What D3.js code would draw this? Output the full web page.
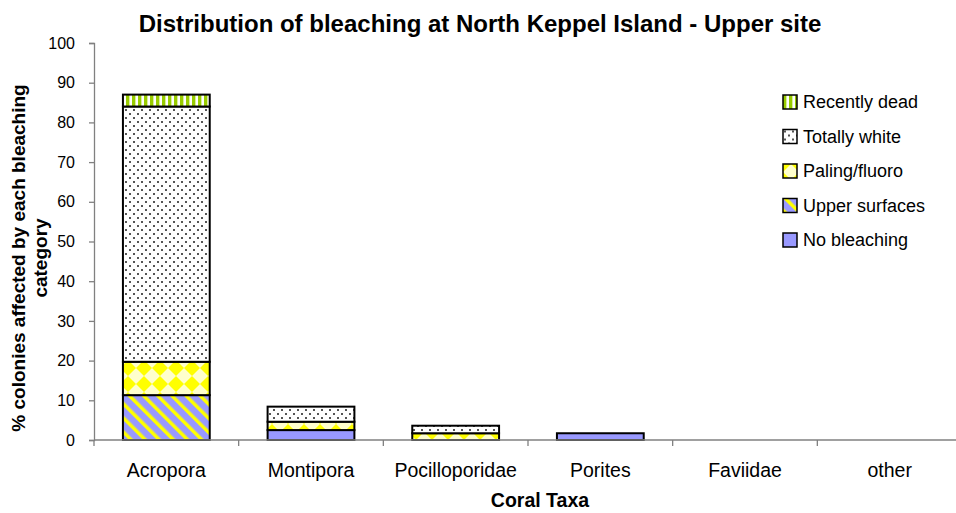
<!DOCTYPE html>
<html>
<head>
<meta charset="utf-8">
<script src="https://cdn.jsdelivr.net/npm/d3@7"></script>
<style>
  body { margin: 0; background: #fff; }
  text { font-family: "Liberation Sans", Arial, sans-serif; }
</style>
</head>
<body>
<div id="chart"></div>
<script>
const categories = ["Acropora", "Montipora", "Pocilloporidae", "Porites", "Faviidae", "other"];
const seriesNames = ["No bleaching", "Upper surfaces", "Paling/fluoro", "Totally white", "Recently dead"];

const noBleaching   = [0,    2.5, 0,   1.7, 0, 0];
const upperSurfaces = [11.3, 0,   0,   0,   0, 0];
const palingFluoro  = [8.4,  2.1, 1.7, 0,   0, 0];
const totallyWhite  = [64.3, 3.8, 1.9, 0,   0, 0];
const recentlyDead  = [3.0,  0,   0,   0,   0, 0];

const yTicks = [0, 10, 20, 30, 40, 50, 60, 70, 80, 90, 100];

const width = 956, height = 513;
const plotLeft = 94, plotRight = 962, plotTop = 43, plotBottom = 440;
const axisGrey = "#808080";

const rows = categories.map((c, i) => ({
  cat: c,
  "No bleaching": noBleaching[i],
  "Upper surfaces": upperSurfaces[i],
  "Paling/fluoro": palingFluoro[i],
  "Totally white": totallyWhite[i],
  "Recently dead": recentlyDead[i]
}));

const svg = d3.select("#chart").append("svg")
  .attr("width", width)
  .attr("height", height);

// --- fill patterns ---
const defs = svg.append("defs");

const pDead = defs.append("pattern").attr("id", "p-dead")
  .attr("patternUnits", "userSpaceOnUse").attr("width", 6).attr("height", 6);
pDead.append("rect").attr("width", 6).attr("height", 6).attr("fill", "#fff");
pDead.append("rect").attr("width", 3).attr("height", 6).attr("fill", "#99cc00");
pDead.append("rect").attr("x", 3).attr("width", 1).attr("height", 6).attr("fill", "#d9ee9e");

const pWhite = defs.append("pattern").attr("id", "p-white")
  .attr("patternUnits", "userSpaceOnUse").attr("width", 8).attr("height", 8);
pWhite.append("rect").attr("width", 8).attr("height", 8).attr("fill", "#fff");
pWhite.append("rect").attr("x", 1).attr("y", 1).attr("width", 2).attr("height", 2).attr("fill", "#555");
pWhite.append("rect").attr("x", 5).attr("y", 5).attr("width", 2).attr("height", 2).attr("fill", "#555");

const pPale = defs.append("pattern").attr("id", "p-pale")
  .attr("patternUnits", "userSpaceOnUse").attr("width", 16).attr("height", 16);
pPale.append("rect").attr("width", 16).attr("height", 16).attr("fill", "#ffff00");
pPale.append("polygon").attr("points", "8,0 16,8 8,16 0,8").attr("fill", "#ffffcc");

const pUpper = defs.append("pattern").attr("id", "p-upper")
  .attr("patternUnits", "userSpaceOnUse").attr("width", 10).attr("height", 10)
  .attr("patternTransform", "rotate(-45)");
pUpper.append("rect").attr("width", 10).attr("height", 10).attr("fill", "#9999ff");
pUpper.append("rect").attr("width", 3.5).attr("height", 10).attr("fill", "#ffff00");

const fills = {
  "No bleaching": "#9999ff",
  "Upper surfaces": "url(#p-upper)",
  "Paling/fluoro": "url(#p-pale)",
  "Totally white": "url(#p-white)",
  "Recently dead": "url(#p-dead)"
};

// --- scales ---
const x = d3.scaleBand().domain(categories).range([plotLeft, plotRight])
  .paddingInner(0.4).paddingOuter(0.2);
const y = d3.scaleLinear().domain([0, 100]).range([plotBottom, plotTop]);

// --- bars ---
const stacked = d3.stack().keys(seriesNames)(rows);

svg.append("g").selectAll("g")
  .data(stacked)
  .join("g")
    .attr("fill", d => fills[d.key])
  .selectAll("rect")
  .data(d => d.filter(s => s[1] - s[0] > 0))
  .join("rect")
    .attr("x", d => x(d.data.cat))
    .attr("y", d => y(d[1]))
    .attr("width", x.bandwidth())
    .attr("height", d => y(d[0]) - y(d[1]))
    .attr("stroke", "#000")
    .attr("stroke-width", 2);

// --- y axis ---
const yAxis = svg.append("g")
  .attr("transform", `translate(${plotLeft},0)`)
  .call(d3.axisLeft(y).tickValues(yTicks).tickSize(5).tickPadding(14));
yAxis.select(".domain").attr("stroke", axisGrey).attr("stroke-width", 1.3);
yAxis.selectAll(".tick line").attr("stroke", axisGrey).attr("stroke-width", 1.3);
yAxis.selectAll(".tick text")
  .attr("font-size", 16).attr("fill", "#000")
  .attr("font-family", "'Liberation Sans', Arial, sans-serif");

// --- x axis (ticks between categories) ---
svg.append("line")
  .attr("x1", plotLeft).attr("x2", width)
  .attr("y1", plotBottom).attr("y2", plotBottom)
  .attr("stroke", axisGrey).attr("stroke-width", 1.3);

svg.append("g").selectAll("line")
  .data(d3.range(categories.length + 1))
  .join("line")
    .attr("x1", i => plotLeft + i * x.step())
    .attr("x2", i => plotLeft + i * x.step())
    .attr("y1", plotBottom).attr("y2", plotBottom + 6)
    .attr("stroke", axisGrey).attr("stroke-width", 1.3);

svg.append("g").selectAll("text")
  .data(categories)
  .join("text")
    .attr("x", d => x(d) + x.bandwidth() / 2)
    .attr("y", 477)
    .attr("text-anchor", "middle")
    .attr("font-size", 19.5)
    .text(d => d);

// --- titles ---
svg.append("text")
  .attr("x", 480).attr("y", 32)
  .attr("text-anchor", "middle")
  .attr("font-size", 24).attr("font-weight", "bold")
  .text("Distribution of bleaching at North Keppel Island - Upper site");

svg.append("text")
  .attr("x", 540).attr("y", 507)
  .attr("text-anchor", "middle")
  .attr("font-size", 19.5).attr("font-weight", "bold")
  .text("Coral Taxa");

const yTitle = svg.append("text")
  .attr("transform", "translate(0,258) rotate(-90)")
  .attr("text-anchor", "middle")
  .attr("font-size", 19).attr("font-weight", "bold");
yTitle.append("tspan").attr("x", 0).attr("y", 25).text("% colonies affected by each bleaching");
yTitle.append("tspan").attr("x", 0).attr("y", 47).text("category");

// --- legend ---
const legendOrder = seriesNames.slice().reverse();
const legend = svg.append("g").selectAll("g")
  .data(legendOrder)
  .join("g")
    .attr("transform", (d, i) => `translate(783,${95 + i * 34.5})`);
legend.append("rect")
  .attr("width", 14).attr("height", 14)
  .attr("fill", d => fills[d])
  .attr("stroke", "#000").attr("stroke-width", 1.5);
legend.append("text")
  .attr("x", 20).attr("y", 7)
  .attr("dy", "0.35em")
  .attr("font-size", 18)
  .text(d => d);
</script>
</body>
</html>
